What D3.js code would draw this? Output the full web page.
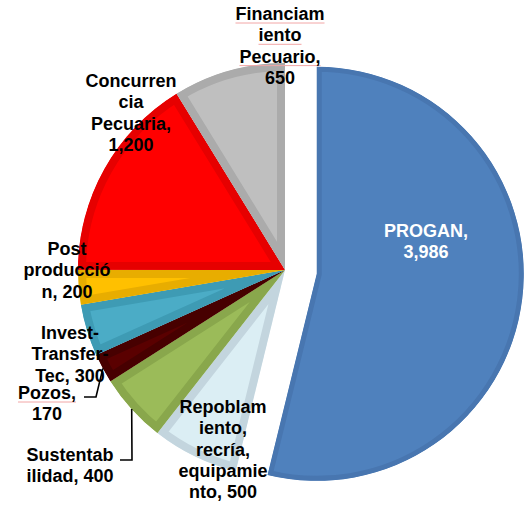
<!DOCTYPE html>
<html>
<head>
<meta charset="utf-8">
<script src="https://cdn.jsdelivr.net/npm/d3@7"></script>
<style>
  html, body { margin: 0; padding: 0; background: #fff; }
  svg { display: block; }
  .lbl { font-family: "Liberation Sans", Arial, sans-serif; font-weight: bold; font-size: 18px; }
</style>
</head>
<body>
<div id="chart"></div>
<script>
// ── Data (clockwise from 12 o'clock) ─────────────────────────────────────
const categories = ['PROGAN', 'Repoblamiento, recría, equipamiento', 'Sustentabilidad', 'Pozos',
                    'Invest-Transfer-Tec', 'Post producción', 'Concurrencia Pecuaria', 'Financiamiento Pecuario'];
const values     = [3986, 500, 400, 170, 300, 200, 1200, 650];
// label text as wrapped in the original, {v} = formatted value
const labelWrap  = [
  ['PROGAN,', '{v}'],
  ['Repoblam', 'iento,', 'recría,', 'equipamie', 'nto, {v}'],
  ['Sustentab', 'ilidad, {v}'],
  ['Pozos,', '{v}'],
  ['Invest-', 'Transfer-', 'Tec, {v}'],
  ['Post', 'producció', 'n, {v}'],
  ['Concurren', 'cia', 'Pecuaria,', '{v}'],
  ['Financiam', 'iento', 'Pecuario,', '{v}']
];

// ── Styling / layout ─────────────────────────────────────────────────────
const W = 529, H = 505;
const cx = 285, cy = 270, R = 207;
const EXPLODE = 32;
const fillIn  = ['#4f81bd', '#dbeef4', '#9bbb59', '#5a0000', '#4bacc6', '#ffc000', '#ff0000', '#bfbfbf'];
const fillOut = ['#4876b0', '#c3d5de', '#89a74c', '#470000', '#3e9bb4', '#e8ad00', '#e60000', '#ababab'];
const labelPos = [[426, 237], [223, 413], [70, 461], [47, 399], [70, 339], [67, 255], [131, 87], [280, 20]];
const LINE_H = 21.3;
const spellMarked = new Set(['Financiam', 'iento', 'Pecuario,', 'Pozos,']);

const fmt = d3.format(',');

const svg = d3.select('#chart').append('svg')
  .attr('width', W)
  .attr('height', H);

const g = svg.append('g').attr('transform', `translate(${cx},${cy})`);

const pie = d3.pie().sort(null).value(d => d)(values);
const arc = d3.arc().innerRadius(0).outerRadius(R);

const defs = svg.append('defs');

pie.forEach((p, i) => {
  const mid = (p.startAngle + p.endAngle) / 2;
  const off = i === 0 ? d3.pointRadial(mid, EXPLODE) : [0, 0];
  const sg = g.append('g').attr('transform', `translate(${off[0]},${off[1]})`);

  defs.append('clipPath').attr('id', 'clip' + i)
    .append('path').attr('d', arc(p));

  // slice with darker bevel band along its edges
  sg.append('path')
    .attr('d', arc(p))
    .attr('fill', fillIn[i])
    .attr('stroke', fillOut[i])
    .attr('stroke-width', i === 0 ? 10 : 16)
    .attr('stroke-linejoin', 'miter')
    .attr('clip-path', `url(#clip${i})`);
});

// ── Leader lines ─────────────────────────────────────────────────────────
const leaders = [
  { idx: 3, pts: [[84, 397], [96, 397]] },
  { idx: 2, pts: [[120, 460], [132, 460]] }
];
leaders.forEach(l => {
  const p = pie[l.idx];
  const tip = d3.pointRadial((p.startAngle + p.endAngle) / 2, R);
  const pts = l.pts.concat([[tip[0] + cx, tip[1] + cy]]);
  svg.append('path')
    .attr('d', d3.line()(pts))
    .attr('fill', 'none')
    .attr('stroke', '#000')
    .attr('stroke-width', 1.6);
});

// ── Labels ───────────────────────────────────────────────────────────────
labelWrap.forEach((lines, i) => {
  const [x, y] = labelPos[i];
  lines.forEach((ln, k) => {
    const txt = ln.replace('{v}', fmt(values[i]));
    const t = svg.append('text')
      .attr('class', 'lbl')
      .attr('x', x)
      .attr('y', y + k * LINE_H)
      .attr('text-anchor', 'middle')
      .attr('fill', i === 0 ? '#fff' : '#000')
      .text(txt);
    if (spellMarked.has(txt)) {
      const w = t.node().getComputedTextLength();
      svg.insert('line', 'text')
        .attr('x1', x - w / 2).attr('x2', x + w / 2)
        .attr('y1', y + k * LINE_H + 3).attr('y2', y + k * LINE_H + 3)
        .attr('stroke', '#f2a6a6')
        .attr('stroke-width', 1);
    }
  });
});
</script>
</body>
</html>
